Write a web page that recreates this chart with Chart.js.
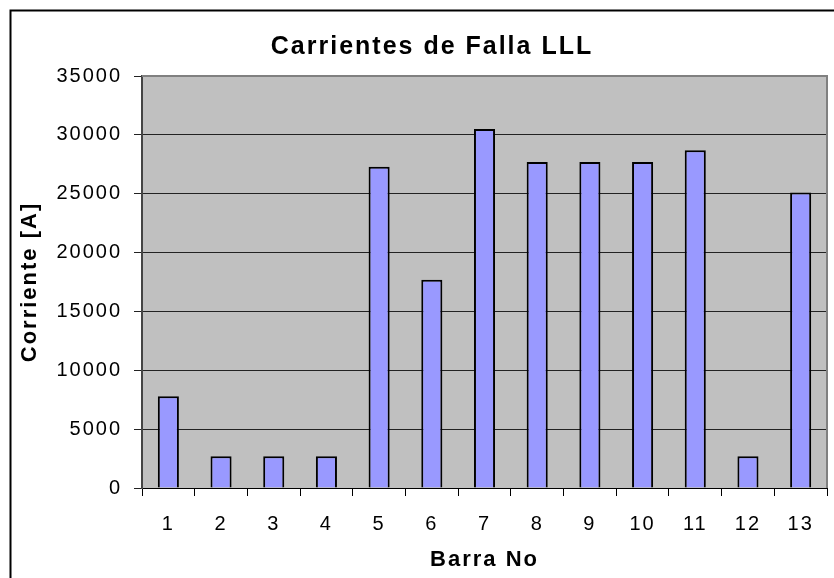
<!DOCTYPE html>
<html>
<head>
<meta charset="utf-8">
<script src="https://cdn.jsdelivr.net/npm/chart.js@4"></script>
<style>
  html, body { margin: 0; padding: 0; background: #fff; }
  #wrap { width: 834px; height: 578px; }
</style>
</head>
<body>
<div id="wrap"><canvas id="fallaChart"></canvas></div>
<script>
// datos
const barras = ['1', '2', '3', '4', '5', '6', '7', '8', '9', '10', '11', '12', '13'];
const corrientes = [7800, 2700, 2700, 2700, 27300, 17700, 30500, 27700, 27700, 27700, 28700, 2700, 25100];
const yTicks = [0, 5000, 10000, 15000, 20000, 25000, 30000, 35000];

const titulo = 'Carrientes de Falla LLL';
const FONT = "'Liberation Sans', Arial, sans-serif";

// fondo gris del area, marco exterior y titulo
const marcoPlugin = {
    id: 'marco',
    beforeLayout(chart) {
        chart.ctx.letterSpacing = '2px';
    },
    beforeDraw(chart) {
        const ctx = chart.ctx;
        const a = chart.chartArea;
        ctx.letterSpacing = '2px';
        ctx.save();
        ctx.fillStyle = '#c0c0c0';
        ctx.fillRect(a.left, a.top, a.right - a.left, a.bottom - a.top);
        ctx.restore();
    },
    afterDraw(chart) {
        const ctx = chart.ctx;
        const a = chart.chartArea;
        ctx.save();
        ctx.strokeStyle = '#808080';
        ctx.lineWidth = 2;
        ctx.beginPath();
        ctx.moveTo(a.left, a.top);
        ctx.lineTo(a.right, a.top);
        ctx.lineTo(a.right, a.bottom);
        ctx.stroke();

        ctx.strokeStyle = '#000';
        ctx.lineWidth = 2;
        ctx.strokeRect(10.5, 10.5, 900, 900);

        ctx.fillStyle = '#000';
        ctx.font = 'bold 25px ' + FONT;
        ctx.letterSpacing = '2px';
        ctx.textAlign = 'center';
        ctx.textBaseline = 'middle';
        ctx.fillText(titulo, 432, 47);
        ctx.restore();
    }
};

const ctx = document.getElementById('fallaChart').getContext('2d');
new Chart(ctx, {
    type: 'bar',
    data: {
        labels: barras,
        datasets: [{
            label: 'Corriente',
            data: corrientes,
            backgroundColor: '#9999ff',
            borderColor: '#000',
            borderWidth: 2,
            barPercentage: 0.4,
            categoryPercentage: 1
        }]
    },
    options: {
        responsive: true,
        maintainAspectRatio: false,
        animation: false,
        layout: {
            padding: { top: 76, right: 7, bottom: 7, left: 17 }
        },
        plugins: {
            legend: { display: false },
            title: { display: false },
            tooltip: { enabled: false }
        },
        scales: {
            x: {
                grid: {
                    offset: true,
                    drawOnChartArea: false,
                    drawTicks: true,
                    tickLength: 8,
                    color: '#000'
                },
                border: { color: '#000', width: 1 },
                ticks: {
                    color: '#000',
                    font: { family: FONT, size: 20 },
                    padding: 16
                },
                title: {
                    display: true,
                    text: 'Barra No',
                    color: '#000',
                    font: { family: FONT, size: 22, weight: 'bold', lineHeight: 1.0 },
                    padding: { top: -3, bottom: 0 }
                }
            },
            y: {
                min: 0,
                max: 35000,
                afterBuildTicks(scale) {
                    scale.ticks = yTicks.map(v => ({ value: v }));
                },
                grid: {
                    color: '#222',
                    lineWidth: 1,
                    drawTicks: true,
                    tickLength: 8
                },
                border: { color: '#444', width: 2 },
                ticks: {
                    color: '#000',
                    font: { family: FONT, size: 20 },
                    padding: 12,
                    callback: v => String(v)
                },
                title: {
                    display: true,
                    text: 'Corriente [A]',
                    color: '#000',
                    font: { family: FONT, size: 22, weight: 'bold' },
                    padding: { top: 0, bottom: 1 }
                }
            }
        }
    },
    plugins: [marcoPlugin]
});
</script>
</body>
</html>
